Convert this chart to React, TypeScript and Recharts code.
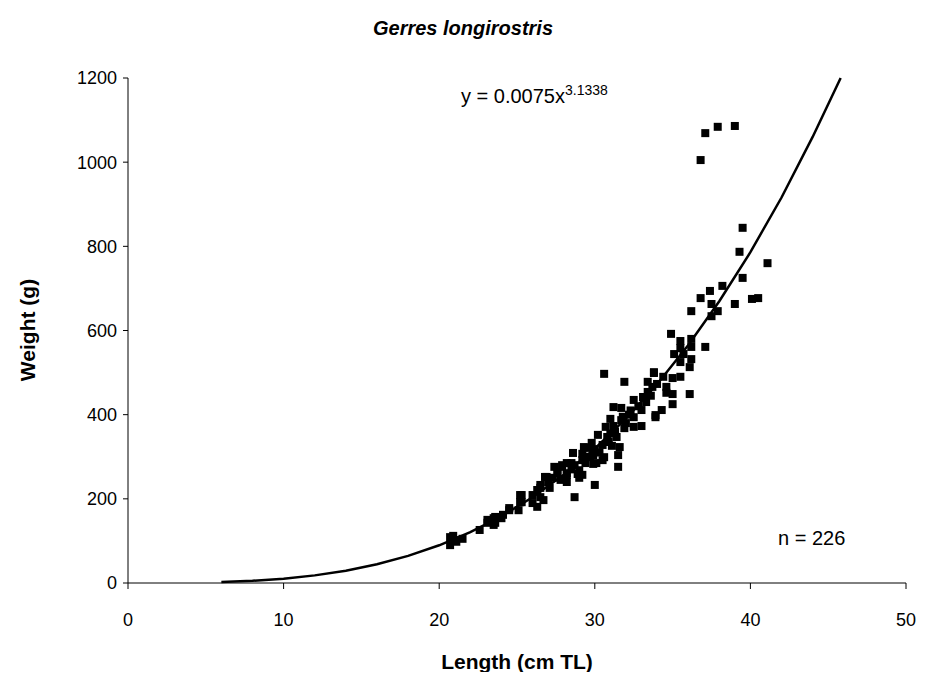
import React from "react";
import { ScatterChart, Scatter, XAxis, YAxis } from "recharts";

// Observed samples: length (cm TL) and weight (g)
const lengths = [
  20.7, 20.7, 21.0, 21.1, 21.5, 20.9, 22.6, 23.1, 23.1, 23.5, 23.5, 23.6, 23.6, 24.0, 24.1, 24.5, 24.5,
  25.1, 25.2, 25.2, 25.3, 25.3, 26.0, 26.0, 26.3, 26.3, 26.5, 26.5, 26.5, 26.7, 26.8, 26.9, 27.1,
  27.4, 27.6, 27.6, 27.8, 27.9, 27.9, 28.2, 28.2, 28.2, 28.2, 28.5, 28.6, 28.7, 28.7, 28.9, 29.0,
  29.0, 29.2, 29.2, 29.2, 29.3, 29.4, 29.6, 29.7, 29.8, 29.9, 29.9, 30.0, 30.1, 30.2, 30.5, 30.5,
  30.6, 30.6, 30.7, 30.8, 31.0, 31.1, 31.2, 31.2, 31.4, 31.5, 31.5, 31.6, 31.7, 31.7, 31.9, 31.9,
  32.5, 32.5, 32.5, 33.0, 33.0, 33.1, 33.4, 33.4, 33.7, 33.8, 33.8, 33.9, 33.9, 34.0, 34.3, 34.4,
  34.6, 34.6, 34.9, 35.0, 35.0, 35.0, 35.1, 35.5, 35.5, 35.5, 35.5, 35.7, 36.1, 36.1, 36.2, 36.2,
  36.2, 36.2, 36.8, 36.8, 37.1, 37.1, 37.4, 37.5, 37.5, 37.9, 37.9, 38.2, 39.0, 39.0, 39.3, 39.5,
  39.5, 40.1, 40.5, 41.1, 30.3, 30.9, 31.3, 31.8, 32.2, 32.0, 32.8, 30.0, 29.5, 28.5, 27.0, 27.3,
  31.0, 32.3, 33.3, 33.6,
];
const weights = [
  109, 90, 102, 98, 105, 112, 126, 143, 150, 138, 154, 157, 143, 154, 162, 173, 178,
  173, 192, 209, 192, 209, 209, 190, 181, 221, 226, 204, 233, 197, 252, 252, 226,
  276, 264, 261, 245, 280, 276, 261, 257, 285, 240, 285, 309, 204, 280, 259, 268,
  250, 292, 257, 307, 323, 285, 321, 299, 333, 304, 283, 233, 285, 352, 328, 292,
  299, 497, 371, 347, 390, 326, 418, 373, 347, 304, 276, 323, 416, 387, 478, 368,
  435, 394, 371, 411, 373, 442, 478, 454, 466, 501, 499, 394, 399, 473, 411, 490,
  466, 452, 592, 487, 449, 425, 544, 575, 558, 525, 490, 544, 513, 449, 646, 580,
  561, 532, 677, 1005, 561, 1069, 694, 663, 634, 646, 1084, 706, 1086, 663, 787, 844,
  725, 675, 677, 760, 310, 335, 360, 395, 400, 380, 420, 318, 300, 270, 240, 250,
  355, 410, 430, 445,
];

// Fitted power curve y = 0.0075x^3.1338, read at these lengths
const curveLengths = [6, 8, 10, 12, 14, 16, 18, 20, 22, 24, 26, 28, 30, 32, 34, 36, 38, 40, 42, 44, 45.8];
const curveWeights = [2.1, 5.1, 10.2, 18.1, 29.3, 44.5, 64.4, 89.6, 120.7, 158.6, 203.8, 257.2, 319.2, 390.7, 472.4, 565.1, 669.4, 786, 916, 1060, 1200];

const xTicks = [0, 10, 20, 30, 40, 50];
const yTicks = [0, 200, 400, 600, 800, 1000, 1200];

const points = lengths.map((x, i) => ({ x, y: weights[i] }));
const curve = curveLengths.map((x, i) => ({ x, y: curveWeights[i] }));

const FONT = "'Liberation Sans', Arial, sans-serif";

const SquareShape = (props: any) => {
  const { cx, cy } = props;
  if (cx == null || cy == null) return <g />;
  return <rect x={cx - 4} y={cy - 4} width={8} height={8} fill="#000" />;
};

const NoShape = () => <g />;

export default function App() {
  const W = 910;
  const H = 664;
  return (
    <div style={{ position: "relative", width: W, height: H, fontFamily: FONT }}>
      <ScatterChart width={W} height={H} margin={{ top: 70, right: 12, bottom: 0, left: 0 }}>
        <XAxis
          type="number"
          dataKey="x"
          domain={[0, 50]}
          ticks={xTicks}
          height={89}
          tickSize={6}
          tickMargin={24}
          stroke="#000"
          tick={{ fill: "#000", fontSize: 18, fontFamily: FONT }}
          tickLine={{ stroke: "#000" }}
          axisLine={{ stroke: "#000" }}
        />
        <YAxis
          type="number"
          dataKey="y"
          domain={[0, 1200]}
          ticks={yTicks}
          width={120}
          tickSize={5}
          tickMargin={6}
          stroke="#000"
          tick={{ fill: "#000", fontSize: 18, fontFamily: FONT }}
          tickLine={{ stroke: "#000" }}
          axisLine={{ stroke: "#000" }}
        />
        <Scatter data={points} shape={SquareShape} isAnimationActive={false} />
        <Scatter
          data={curve}
          line={{ stroke: "#000", strokeWidth: 2.5 }}
          lineType="joint"
          shape={NoShape}
          isAnimationActive={false}
        />
      </ScatterChart>
      <svg
        width={W}
        height={H}
        style={{ position: "absolute", left: 0, top: 0, pointerEvents: "none" }}
      >
        <text x={455} y={20} textAnchor="middle" dominantBaseline="central" fontSize={20} fontWeight="bold" fontStyle="italic" fontFamily={FONT} fill="#000">
          Gerres longirostris
        </text>
        <text x={453} y={95} fontSize={20} fontFamily={FONT} fill="#000">
          y = 0.0075x<tspan dy={-8} fontSize={14}>3.1338</tspan>
        </text>
        <text x={770} y={537} fontSize={20} fontFamily={FONT} fill="#000">
          n = 226
        </text>
        <text x={509} y={653} textAnchor="middle" dominantBaseline="central" fontSize={21} fontWeight="bold" fontFamily={FONT} fill="#000">
          Length (cm TL)
        </text>
        <text x={19} y={322} textAnchor="middle" dominantBaseline="central" fontSize={21} fontWeight="bold" fontFamily={FONT} fill="#000" transform="rotate(-90 19 322)">
          Weight (g)
        </text>
      </svg>
    </div>
  );
}
